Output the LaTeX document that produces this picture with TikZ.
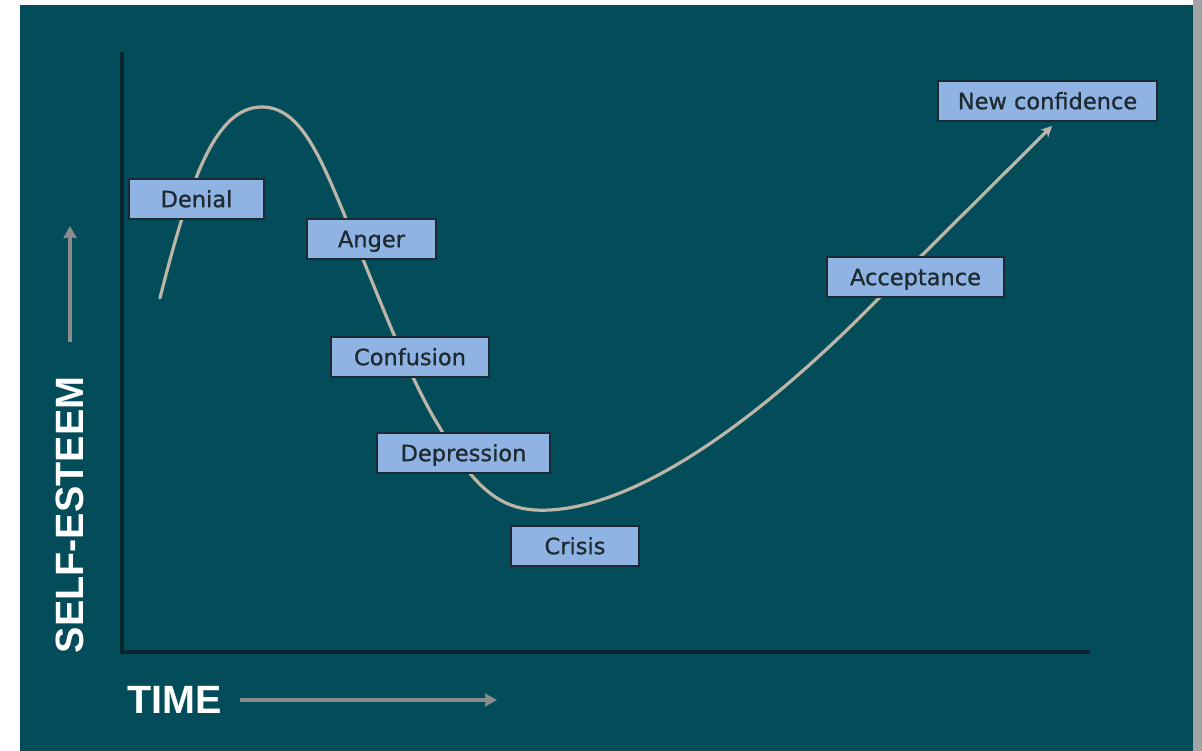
\documentclass[tikz,border=0pt]{standalone}
\usepackage{fontspec}
\setmainfont{DejaVu Sans}
\newfontfamily\boxfont[FakeBold=0.9]{DejaVu Sans}
\newfontfamily\axisfont{Liberation Sans}
\usetikzlibrary{arrows.meta}
\definecolor{bgteal}{HTML}{034C5A}
\definecolor{boxfill}{HTML}{8FB4E3}
\definecolor{boxline}{HTML}{1C2B33}
\definecolor{boxtext}{HTML}{1E2A30}
\definecolor{axisline}{HTML}{0A262E}
\definecolor{curvecol}{HTML}{BDB5A8}
\definecolor{arrowgray}{HTML}{8C8C8C}
\definecolor{edgegray}{HTML}{A3A3A3}
\tikzset{
  stagebox/.style={draw=boxline, line width=2pt, fill=boxfill, text=boxtext,
    font=\boxfont\fontsize{22.5}{26}\selectfont, minimum height=40pt, inner sep=0pt,
    text height=16.4pt, text depth=0pt, anchor=center},
  axislabel/.style={text=white, font=\axisfont\bfseries\fontsize{39.5}{44}\selectfont, inner sep=0pt},
  axisarrow/.style={draw=arrowgray, line width=3.4pt, -{Stealth[length=12pt,width=13pt,inset=1pt]}},
  curveline/.style={draw=curvecol, line width=3.2pt, line cap=round}
}
\begin{document}
\begin{tikzpicture}[x=1pt,y=-1pt]
\useasboundingbox (0,0) rectangle (1202,751);
\fill[white] (0,0) rectangle (1202,751);
\fill[edgegray] (1193,0) rectangle (1202,751);
\fill[bgteal] (20,5) rectangle (1193,751);
% axes
\coordinate (ytop) at (122,52);
\coordinate (origin) at (122,652);
\coordinate (xend) at (1090,652);
\draw[axisline, line width=3.6pt] (ytop) -- (origin) -- (xend);
% curve
\coordinate (c0) at (160,298);
\coordinate (c1) at (262,107);
\coordinate (c2) at (355,240);
\coordinate (c3) at (440,428);
\coordinate (c4) at (550,510);
\coordinate (c5) at (880,297);
\coordinate (c6) at (1052,126);
\draw[curveline] (c0) .. controls (190,180) and (215,107) .. (c1)
  .. controls (305,107) and (325,170) .. (c2)
  .. controls (380,300) and (410,380) .. (c3)
  .. controls (480,500) and (510,512) .. (c4)
  .. controls (640,505) and (760,420) .. (c5);
\draw[curveline, -{Stealth[length=11pt,width=11pt]}] (c5) -- (c6);
% stage boxes
\node[stagebox, minimum width=135pt] (denial) at (196.5,199) {Denial};
\node[stagebox, minimum width=129pt] (anger) at (371.5,239) {Anger};
\node[stagebox, minimum width=158pt] (confusion) at (410,357) {Confusion};
\node[stagebox, minimum width=173pt] (depression) at (463.5,453) {Depression};
\node[stagebox, minimum width=128pt] (crisis) at (575,546) {Crisis};
\node[stagebox, minimum width=177pt] (acceptance) at (915.5,277) {Acceptance};
\node[stagebox, minimum width=219pt] (newconf) at (1047.5,101) {New confidence};
% axis labels
\node[axislabel, rotate=90] (selfesteem) at (70,515) {SELF-ESTEEM};
\coordinate (ya0) at (70,342);
\coordinate (ya1) at (70,226);
\draw[axisarrow] (ya0) -- (ya1);
\node[axislabel, anchor=west] (time) at (127,700) {TIME};
\coordinate (xa0) at (240,700);
\coordinate (xa1) at (497,700);
\draw[axisarrow] (xa0) -- (xa1);
\end{tikzpicture}
\end{document}
